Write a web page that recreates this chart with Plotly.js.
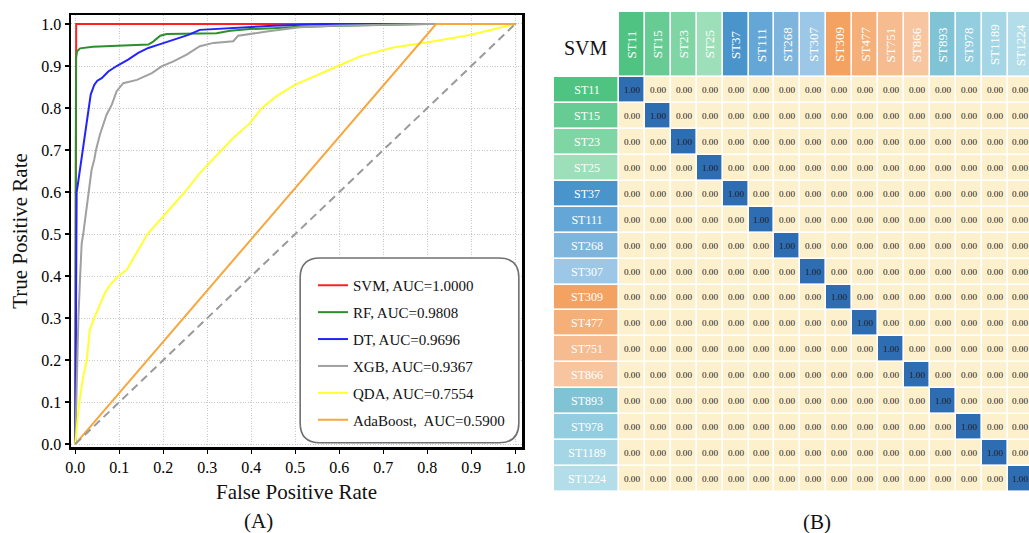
<!DOCTYPE html>
<html>
<head>
<meta charset="utf-8">
<script src="https://cdn.plot.ly/plotly-3.0.1.min.js"></script>
<style>html,body{margin:0;padding:0;background:#fff;}#chart{width:1029px;height:533px;}</style>
</head>
<body>
<div id="chart"></div>
<script>
// ---------- ROC data ----------
const svmFpr = [0.0, 0.002, 1.0];
const svmTpr = [0.0, 1.0, 1.0];

const rfFpr = [0.0, 0.0016, 0.004, 0.011, 0.04, 0.079, 0.12, 0.166, 0.177, 0.193, 0.208, 0.26, 0.321, 0.352, 0.397, 0.45, 0.5, 0.6, 0.7, 0.8, 1.0];
const rfTpr = [0.0, 0.92, 0.935, 0.942, 0.946, 0.948, 0.949, 0.951, 0.958, 0.972, 0.976, 0.977, 0.978, 0.984, 0.988, 0.990, 0.993, 0.996, 0.998, 1.0, 1.0];

const dtFpr = [0.0, 0.001, 0.002, 0.003, 0.006, 0.009, 0.014, 0.017, 0.022, 0.027, 0.031, 0.035, 0.043, 0.05, 0.06, 0.075, 0.094, 0.12, 0.143, 0.166, 0.193, 0.227, 0.257, 0.283, 0.344, 0.4, 0.45, 0.56, 1.0];
const dtTpr = [0.0, 0.3, 0.55, 0.6, 0.62, 0.641, 0.677, 0.70, 0.735, 0.768, 0.80, 0.832, 0.855, 0.865, 0.871, 0.887, 0.90, 0.915, 0.931, 0.943, 0.952, 0.963, 0.974, 0.986, 0.99, 0.993, 0.996, 1.0, 1.0];

const xgbFpr = [0.0, 0.002, 0.004, 0.007, 0.011, 0.0145, 0.018, 0.024, 0.030, 0.037, 0.043, 0.047, 0.056, 0.064, 0.071, 0.083, 0.094, 0.109, 0.14, 0.174, 0.196, 0.223, 0.253, 0.283, 0.314, 0.359, 0.37, 0.435, 0.51, 0.586, 0.7, 0.8, 1.0];
const xgbTpr = [0.0, 0.1, 0.22, 0.30, 0.40, 0.478, 0.50, 0.55, 0.60, 0.653, 0.677, 0.70, 0.737, 0.76, 0.784, 0.808, 0.84, 0.859, 0.867, 0.883, 0.899, 0.911, 0.927, 0.947, 0.955, 0.959, 0.972, 0.982, 0.992, 0.996, 0.998, 1.0, 1.0];

const qdaFpr = [0.0, 0.004, 0.008, 0.012, 0.018, 0.026, 0.033, 0.043, 0.055, 0.0675, 0.08, 0.098, 0.117, 0.14, 0.164, 0.193, 0.22, 0.249, 0.283, 0.313, 0.333, 0.36, 0.397, 0.424, 0.46, 0.499, 0.571, 0.597, 0.647, 0.70, 0.722, 0.799, 0.897, 1.0];
const qdaTpr = [0.0, 0.05, 0.09, 0.12, 0.16, 0.20, 0.272, 0.30, 0.33, 0.36, 0.38, 0.40, 0.415, 0.455, 0.50, 0.534, 0.565, 0.60, 0.645, 0.677, 0.70, 0.73, 0.764, 0.80, 0.83, 0.855, 0.887, 0.90, 0.923, 0.939, 0.944, 0.956, 0.974, 1.0];

const adaFpr = [0.0, 0.82, 1.0];
const adaTpr = [0.0, 1.0, 1.0];

const chanceX = [0.0, 1.0];
const chanceY = [0.0, 1.0];

const modelNames = ['SVM, AUC=1.0000', 'RF, AUC=0.9808', 'DT, AUC=0.9696', 'XGB, AUC=0.9367', 'QDA, AUC=0.7554', 'AdaBoost,  AUC=0.5900'];

// ---------- Confusion matrix data ----------
const classes = ['ST11', 'ST15', 'ST23', 'ST25', 'ST37', 'ST111', 'ST268', 'ST307', 'ST309', 'ST477', 'ST751', 'ST866', 'ST893', 'ST978', 'ST1189', 'ST1224'];
const classColors = ['#4fc381', '#67cc94', '#80d5a5', '#9ddfb9', '#4a94cc', '#64a7d6', '#7eb5dd', '#9dc7e6', '#f4a262', '#f5b07a', '#f6bb8e', '#f7c6a1', '#80c3d4', '#93cde0', '#a4d6e5', '#b3dde9'];
const matrix = [
  [1.00,0.00,0.00,0.00,0.00,0.00,0.00,0.00,0.00,0.00,0.00,0.00,0.00,0.00,0.00,0.00],
  [0.00,1.00,0.00,0.00,0.00,0.00,0.00,0.00,0.00,0.00,0.00,0.00,0.00,0.00,0.00,0.00],
  [0.00,0.00,1.00,0.00,0.00,0.00,0.00,0.00,0.00,0.00,0.00,0.00,0.00,0.00,0.00,0.00],
  [0.00,0.00,0.00,1.00,0.00,0.00,0.00,0.00,0.00,0.00,0.00,0.00,0.00,0.00,0.00,0.00],
  [0.00,0.00,0.00,0.00,1.00,0.00,0.00,0.00,0.00,0.00,0.00,0.00,0.00,0.00,0.00,0.00],
  [0.00,0.00,0.00,0.00,0.00,1.00,0.00,0.00,0.00,0.00,0.00,0.00,0.00,0.00,0.00,0.00],
  [0.00,0.00,0.00,0.00,0.00,0.00,1.00,0.00,0.00,0.00,0.00,0.00,0.00,0.00,0.00,0.00],
  [0.00,0.00,0.00,0.00,0.00,0.00,0.00,1.00,0.00,0.00,0.00,0.00,0.00,0.00,0.00,0.00],
  [0.00,0.00,0.00,0.00,0.00,0.00,0.00,0.00,1.00,0.00,0.00,0.00,0.00,0.00,0.00,0.00],
  [0.00,0.00,0.00,0.00,0.00,0.00,0.00,0.00,0.00,1.00,0.00,0.00,0.00,0.00,0.00,0.00],
  [0.00,0.00,0.00,0.00,0.00,0.00,0.00,0.00,0.00,0.00,1.00,0.00,0.00,0.00,0.00,0.00],
  [0.00,0.00,0.00,0.00,0.00,0.00,0.00,0.00,0.00,0.00,0.00,1.00,0.00,0.00,0.00,0.00],
  [0.00,0.00,0.00,0.00,0.00,0.00,0.00,0.00,0.00,0.00,0.00,0.00,1.00,0.00,0.00,0.00],
  [0.00,0.00,0.00,0.00,0.00,0.00,0.00,0.00,0.00,0.00,0.00,0.00,0.00,1.00,0.00,0.00],
  [0.00,0.00,0.00,0.00,0.00,0.00,0.00,0.00,0.00,0.00,0.00,0.00,0.00,0.00,1.00,0.00],
  [0.00,0.00,0.00,0.00,0.00,0.00,0.00,0.00,0.00,0.00,0.00,0.00,0.00,0.00,0.00,1.00]
];
const matrixTitle = 'SVM';

// ---------- build ----------
const W = 1029, H = 533;
const SERIF = 'Liberation Serif, Times New Roman, serif';
const px = v => v / W;
const py = v => 1 - v / H;

const curveColors = ['#ff2020', '#2b8f2b', '#2323ff', '#a0a0a0', '#ffff33', '#f7a73c'];
const curves = [[svmFpr, svmTpr], [rfFpr, rfTpr], [dtFpr, dtTpr], [xgbFpr, xgbTpr], [qdaFpr, qdaTpr], [adaFpr, adaTpr]];

const traces = curves.map((c, i) => ({
  type: 'scatter', mode: 'lines', x: c[0], y: c[1],
  xaxis: 'x', yaxis: 'y',
  name: modelNames[i], legendgroup: 'g' + i,
  line: {color: curveColors[i], width: 2},
  hoverinfo: 'skip'
}));
traces.push({
  type: 'scatter', mode: 'lines', x: chanceX, y: chanceY, xaxis: 'x', yaxis: 'y',
  showlegend: false, line: {color: '#9a9a9a', width: 2, dash: '8px,5px'}, hoverinfo: 'skip'
});

const idx = classes.map((_, i) => i);
const discreteScale = classColors.map((c, i) => [i / (classColors.length - 1), c]);

// main matrix
traces.push({
  type: 'heatmap', z: matrix, x: idx, y: idx, xaxis: 'x2', yaxis: 'y2',
  zmin: 0, zmax: 1, colorscale: [[0, '#fdf0cc'], [1, '#2f6db2']], showscale: false,
  xgap: 1.6, ygap: 1.6, texttemplate: '%{z:.2f}',
  textfont: {family: SERIF, size: 9.2, color: '#1a1a1a'}, hoverinfo: 'skip'
});
// column header row
traces.push({
  type: 'heatmap', z: [idx], x: idx, y: [0], xaxis: 'x2', yaxis: 'y3',
  zmin: 0, zmax: classes.length - 1, colorscale: discreteScale, showscale: false,
  xgap: 1.6, ygap: 1.6, hoverinfo: 'skip'
});
// row label column
traces.push({
  type: 'heatmap', z: idx.map(i => [i]), x: [0], y: idx, xaxis: 'x4', yaxis: 'y2',
  zmin: 0, zmax: classes.length - 1, colorscale: discreteScale, showscale: false,
  xgap: 1.6, ygap: 1.6, text: classes.map(c => [c]), texttemplate: '%{text}',
  textfont: {family: SERIF, size: 12, color: '#ffffff'}, hoverinfo: 'skip'
});

const annotations = classes.map((c, i) => ({
  xref: 'x2', yref: 'y3', x: i, y: 0, text: c, showarrow: false, textangle: -90,
  xanchor: 'center', yanchor: 'middle',
  font: {family: SERIF, size: 13, color: '#ffffff'}
}));
annotations.push({xref: 'paper', yref: 'paper', x: px(585.5), y: py(48), xanchor: 'center', yanchor: 'middle',
  text: matrixTitle, showarrow: false, font: {family: SERIF, size: 20, color: '#111'}});
annotations.push({xref: 'paper', yref: 'paper', x: px(258), y: py(521), xanchor: 'center', yanchor: 'middle',
  text: '(A)', showarrow: false, font: {family: SERIF, size: 21, color: '#111'}});
annotations.push({xref: 'paper', yref: 'paper', x: px(817), y: py(522), xanchor: 'center', yanchor: 'middle',
  text: '(B)', showarrow: false, font: {family: SERIF, size: 21, color: '#111'}});

// rounded legend frame (data coords of ROC axes)
const bx0 = 0.511, bx1 = 1.008, by0 = 0.003, by1 = 0.443, rx = 0.045, ry = 0.047;
const boxPath = `M${bx0 + rx},${by0} L${bx1 - rx},${by0} Q${bx1},${by0} ${bx1},${by0 + ry} L${bx1},${by1 - ry} Q${bx1},${by1} ${bx1 - rx},${by1} L${bx0 + rx},${by1} Q${bx0},${by1} ${bx0},${by1 - ry} L${bx0},${by0 + ry} Q${bx0},${by0} ${bx0 + rx},${by0} Z`;

const hidden = {visible: false, showgrid: false, zeroline: false, fixedrange: true};

const axBase = {
  showline: true, linecolor: '#000', linewidth: 2.5, mirror: true,
  ticks: 'outside', ticklen: 4, tickwidth: 1.5, tickcolor: '#000',
  tickmode: 'linear', tick0: 0, dtick: 0.1, tickformat: '.1f',
  tickfont: {family: SERIF, size: 16, color: '#000'},
  showgrid: true, gridcolor: '#c8c8c8', gridwidth: 1, griddash: '1px,1.6px', zeroline: false
};

const layout = {
  width: W, height: H, margin: {l: 0, r: 0, t: 0, b: 0},
  paper_bgcolor: '#fff', plot_bgcolor: '#fff',
  font: {family: SERIF, color: '#000'},
  xaxis: Object.assign({}, axBase, {domain: [px(71), px(522)], range: [-0.0098, 1.0152], anchor: 'y',
    title: {text: 'False Positive Rate', font: {family: SERIF, size: 21, color: '#111'}, standoff: 10}}),
  yaxis: Object.assign({}, axBase, {domain: [py(447), py(15)], range: [-0.007, 1.0214], anchor: 'x',
    title: {text: 'True Positive Rate', font: {family: SERIF, size: 21, color: '#111'}, standoff: 8}}),
  xaxis2: Object.assign({}, hidden, {domain: [px(619), 1], range: [-0.5, 15.33], anchor: 'y2'}),
  yaxis2: Object.assign({}, hidden, {domain: [py(492), py(77)], range: [15.5, -0.5], anchor: 'x2'}),
  yaxis3: Object.assign({}, hidden, {domain: [py(77), py(12)], range: [-0.5, 0.5], anchor: 'x2'}),
  xaxis4: Object.assign({}, hidden, {domain: [px(554), px(619)], range: [-0.5, 0.5], anchor: 'y2'}),
  legend: {x: px(313), y: py(269), xanchor: 'left', yanchor: 'top', bgcolor: 'rgba(0,0,0,0)',
    borderwidth: 0, font: {family: SERIF, size: 15, color: '#111'}, tracegroupgap: 4.4, traceorder: 'grouped'},
  shapes: [{type: 'path', xref: 'x', yref: 'y', path: boxPath, fillcolor: '#ffffff',
    line: {color: '#707070', width: 1.6}, layer: 'above'}],
  annotations: annotations,
  showlegend: true
};

Plotly.newPlot('chart', traces, layout, {displayModeBar: false, staticPlot: true});
</script>
</body>
</html>
